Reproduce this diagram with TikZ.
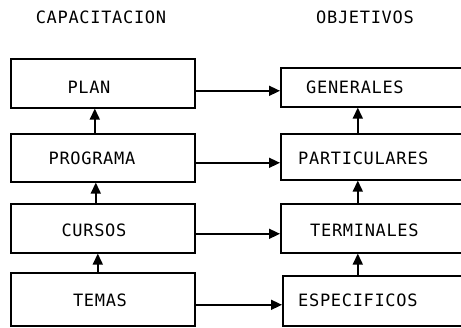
\documentclass[tikz,border=0pt]{standalone}
\usepackage{fontspec}
\setmonofont[LetterSpace=4]{DejaVu Sans Mono}
\usetikzlibrary{arrows.meta}
\begin{document}
\begin{tikzpicture}[x=1pt,y=-1pt,
  box/.style={draw,line width=1.6pt,rectangle,inner sep=0pt,anchor=north west},
  lbl/.style={font=\ttfamily\fontsize{17}{19}\selectfont,inner sep=0pt},
  arr/.style={line width=1.6pt,-{Triangle[length=11pt,width=10pt]}}]
\useasboundingbox (0,0) rectangle (461,327);
\clip (0,0) rectangle (461,327);
% headings
\node[lbl] (hcap) at (101,17) {CAPACITACION};
\node[lbl] (hobj) at (365,17) {OBJETIVOS};
% left boxes
\node[box,minimum width=184pt,minimum height=49pt] (plan) at (10,58) {};
\node[box,minimum width=184pt,minimum height=48pt] (prog) at (10,133) {};
\node[box,minimum width=184pt,minimum height=49pt] (curs) at (10,203) {};
\node[box,minimum width=184pt,minimum height=53pt] (temas) at (10,272) {};
% right boxes
\node[box,minimum width=200pt,minimum height=39pt] (gen) at (280,67) {};
\node[box,minimum width=200pt,minimum height=46pt] (part) at (280,133) {};
\node[box,minimum width=200pt,minimum height=49pt] (term) at (280,203) {};
\node[box,minimum width=200pt,minimum height=50pt] (esp) at (282,275) {};
% texts
\node[lbl] (tplan) at (89,87) {PLAN};
\node[lbl] (tprog) at (92,158) {PROGRAMA};
\node[lbl] (tcurs) at (94,230) {CURSOS};
\node[lbl] (ttemas) at (100,300) {TEMAS};
\node[lbl,anchor=west] (tgen) at (306,87) {GENERALES};
\node[lbl,anchor=west] (tpart) at (298,158) {PARTICULARES};
\node[lbl,anchor=west] (tterm) at (310,230) {TERMINALES};
\node[lbl,anchor=west] (tesp) at (298,300) {ESPECIFICOS};
% horizontal arrows
\draw[arr] ([yshift=-7.5pt]plan.east) -- ([yshift=-7.5pt]plan.east -| gen.west);
\draw[arr] ([yshift=-5pt]prog.east) -- ([yshift=-5pt]prog.east -| part.west);
\draw[arr] ([yshift=-5.5pt]curs.east) -- ([yshift=-5.5pt]curs.east -| term.west);
\draw[arr] ([yshift=-5.5pt]temas.east) -- ([yshift=-5.5pt]temas.east -| esp.west);
% vertical arrows left
\draw[arr] ([xshift=-8pt]prog.north) -- ([xshift=-8pt]plan.south);
\draw[arr] ([xshift=-7pt]curs.north) -- ([xshift=-7pt]prog.south);
\draw[arr] ([xshift=-5pt]temas.north) -- ([xshift=-5pt]curs.south);
% vertical arrows right
\draw[arr] ([xshift=-23pt]part.north) -- ([xshift=-23pt]gen.south);
\draw[arr] ([xshift=-23pt]term.north) -- ([xshift=-23pt]part.south);
\draw[arr] ([xshift=-25pt]esp.north) -- ([xshift=-25pt]esp.north |- term.south);
\end{tikzpicture}
\end{document}
